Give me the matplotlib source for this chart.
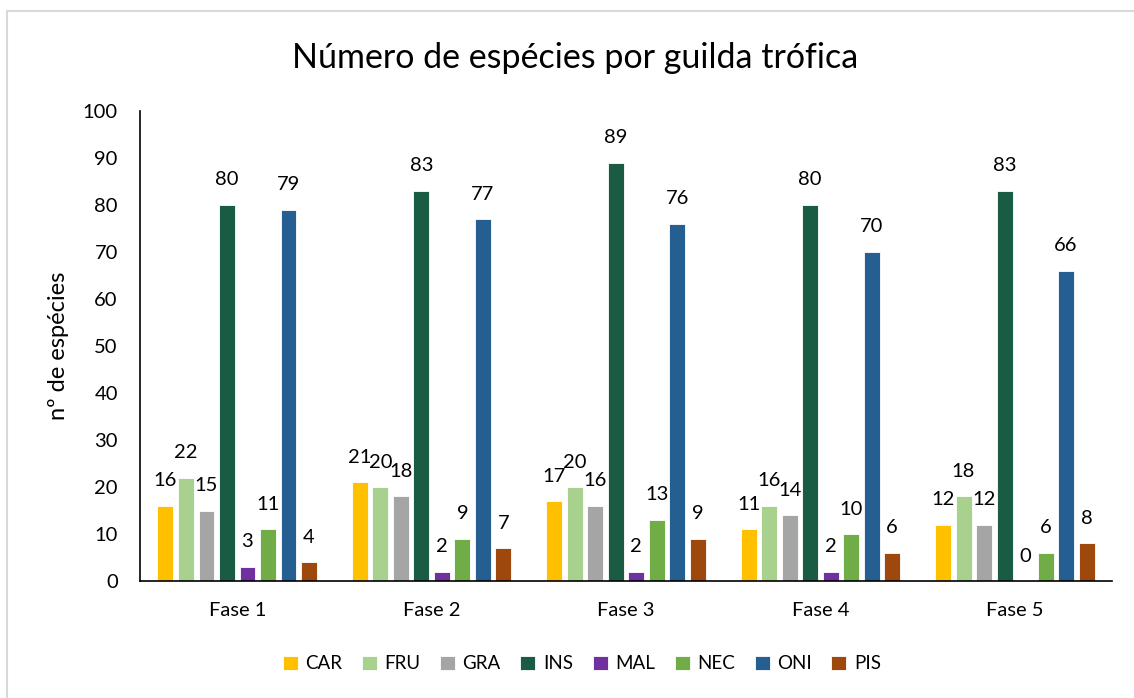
import matplotlib
matplotlib.use('Agg')
import matplotlib.pyplot as plt
import numpy as np
from matplotlib.patches import Rectangle

plt.rcParams['font.family'] = ['Lato', 'DejaVu Sans']

# dados
fases = ['Fase 1', 'Fase 2', 'Fase 3', 'Fase 4', 'Fase 5']
guildas = ['CAR', 'FRU', 'GRA', 'INS', 'MAL', 'NEC', 'ONI', 'PIS']
car = [16, 21, 17, 11, 12]
fru = [22, 20, 20, 16, 18]
gra = [15, 18, 16, 14, 12]
ins = [80, 83, 89, 80, 83]
mal = [3, 2, 2, 2, 0]
nec = [11, 9, 13, 10, 6]
oni = [79, 77, 76, 70, 66]
pis = [4, 7, 9, 6, 8]
cores = ['#FFC000', '#A9D18E', '#A5A5A5', '#1A5C43',
         '#7030A0', '#70AD47', '#255E91', '#9E480E']

series = [car, fru, gra, ins, mal, nec, oni, pis]

fig = plt.figure(figsize=(11.34, 6.98), dpi=100)
ax = fig.add_axes([0.1235, 0.1676, 0.8571, 0.6734])

x = np.arange(len(fases))
step = 0.1055
width = 0.082
for i, (nome, vals, cor) in enumerate(zip(guildas, series, cores)):
    pos = x + (i - 3.5) * step
    ax.bar(pos, vals, width, color=cor, label=nome,
           edgecolor='white', linewidth=0.6)
    for xb, v in zip(pos, vals):
        ax.annotate(str(v), (xb, v), xytext=(0, 18), textcoords='offset points',
                    ha='center', va='center', fontsize=14.5)

ax.set_xlim(-0.5, 4.5)
ax.set_ylim(0, 100)
ax.set_yticks(range(0, 101, 10))
ax.set_xticks(x)
ax.set_xticklabels(fases)
ax.tick_params(axis='y', length=0, pad=16, labelsize=14.5)
ax.tick_params(axis='x', length=0, pad=15, labelsize=14.5)
for s in ['top', 'right']:
    ax.spines[s].set_visible(False)
ax.spines['left'].set_linewidth(1.2)
ax.spines['bottom'].set_linewidth(1.2)
ax.set_ylabel('nº de espécies', fontsize=17, labelpad=10)

fig.text(0.507, 0.917, 'Número de espécies por guilda trófica',
         ha='center', va='center', fontsize=24.5)

fig.legend(loc='center', bbox_to_anchor=(0.513, 0.049), ncol=8, frameon=False,
           fontsize=13.5, handlelength=0.8, handleheight=0.8,
           handletextpad=0.4, columnspacing=1.05)

fig.patches.append(Rectangle((7 / 1134, -0.05), 1.1, 1 - 11 / 698 + 0.05,
                             transform=fig.transFigure, fill=False,
                             edgecolor='#D9D9D9', linewidth=1.5))

fig.savefig('out.png', dpi=100)
